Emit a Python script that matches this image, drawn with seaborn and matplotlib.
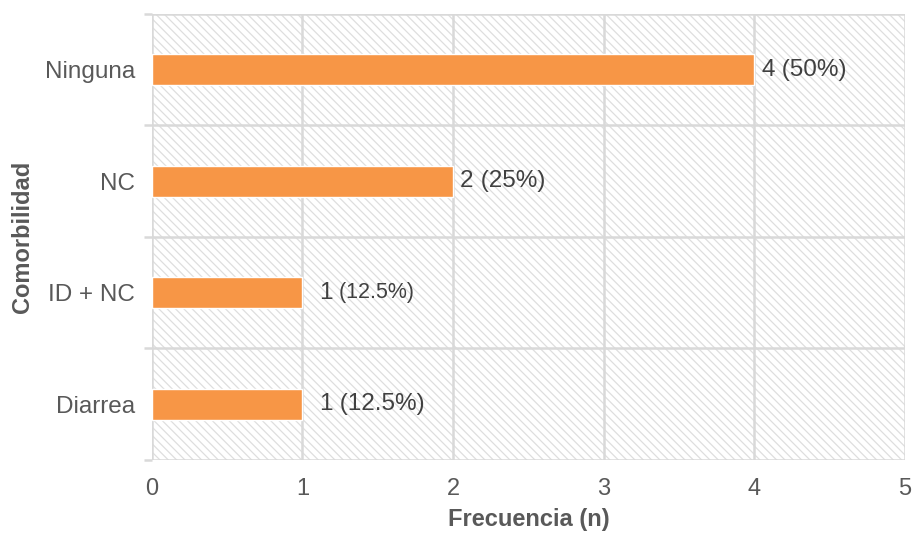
import matplotlib
matplotlib.use("Agg")
import matplotlib.pyplot as plt
import seaborn as sns
import pandas as pd
from matplotlib.patches import Rectangle

categories = ["Ninguna", "NC", "ID + NC", "Diarrea"]
counts = [4, 2, 1, 1]
pct_labels = ["(50%)", "(25%)", "(12.5%)", "(12.5%)"]
x_ticks = [0, 1, 2, 3, 4, 5]

sns.set_theme(style="white")
plt.rcParams["font.family"] = ["Liberation Sans", "DejaVu Sans"]
plt.rcParams["hatch.linewidth"] = 0.9

df = pd.DataFrame({"Comorbilidad": categories, "n": counts})

fig = plt.figure(figsize=(9.15, 5.38), dpi=100)
ax = fig.add_axes([0.166, 0.145, 0.823, 0.829])

bg = Rectangle((0, 0), 1, 1, transform=ax.transAxes, facecolor="white",
               edgecolor="#dedede", hatch="\\\\\\\\", linewidth=0, zorder=0)
ax.add_patch(bg)

sns.barplot(data=df, y="Comorbilidad", x="n", order=categories, orient="h",
            color="#F79646", saturation=1, width=0.28, ax=ax, zorder=3)

ax.set_xlim(0, 5)
ax.set_ylim(3.5, -0.5)
ax.set_xticks(x_ticks)
ax.set_xticklabels([str(t) for t in x_ticks])
ax.set_yticks(range(len(categories)))
ax.set_yticks([-0.5, 0.5, 1.5, 2.5, 3.5], minor=True)

ax.grid(False)
for xv in x_ticks:
    ax.axvline(xv, color="#d9d9d9", lw=1.8, zorder=1)
for yv in [-0.5, 0.5, 1.5, 2.5, 3.5]:
    ax.axhline(yv, color="#d9d9d9", lw=1.8, zorder=1)

for s in ax.spines.values():
    s.set_visible(False)

ax.tick_params(axis="x", which="major", length=0, pad=13, labelsize=17, labelcolor="#595959")
ax.tick_params(axis="y", which="major", length=0, pad=12, labelsize=17.5, labelcolor="#595959")
ax.tick_params(axis="y", which="minor", left=True, length=6, width=1.8, color="#d9d9d9")

ax.set_xlabel("Frecuencia (n)", fontsize=17, fontweight="bold", color="#595959", labelpad=6)
ax.set_ylabel("Comorbilidad", fontsize=17, fontweight="bold", color="#595959", labelpad=8)

offsets = [5, 5, 12, 12]
pct_sizes = [17.5, 17.5, 15.5, 17.5]
for i, (c, p) in enumerate(zip(counts, pct_labels)):
    t = ax.annotate(f"{c}", xy=(c, i), xytext=(offsets[i], 0), textcoords="offset points",
                    va="center", ha="left", fontsize=17.5, color="#404040", zorder=5)
    fig.canvas.draw()
    bb = t.get_window_extent()
    x_end_pts = (bb.x1 - ax.transData.transform((c, i))[0]) * 72 / fig.dpi
    ax.annotate(f" {p}", xy=(c, i), xytext=(x_end_pts, 0), textcoords="offset points",
                va="center", ha="left", fontsize=pct_sizes[i], color="#404040", zorder=5)

fig.savefig("out.png", dpi=100)
